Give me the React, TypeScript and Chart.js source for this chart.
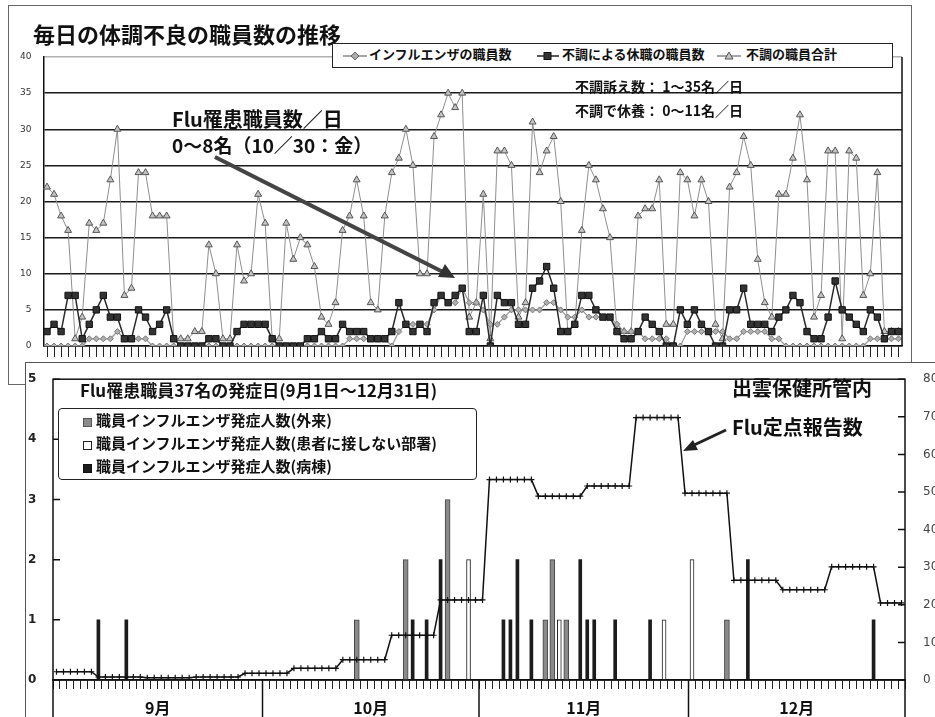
import React, { useEffect, useRef } from 'react';
import { Chart, registerables } from 'chart.js';

Chart.register(...registerables);

const FONT = '"Noto Sans CJK JP", "Noto Sans", sans-serif';

// ---- categories: every day from 9/1 to 12/31 ----
const monthNames = ['9月', '10月', '11月', '12月'];
const monthNumbers = [9, 10, 11, 12];
const monthDays = [30, 31, 30, 31];
const dayLabels: string[] = monthDays.flatMap((n, m) =>
  Array.from({ length: n }, (_, d) => `${monthNumbers[m]}/${d + 1}`)
);

// ---- top chart: 毎日の体調不良の職員数の推移 ----
const totalIll = [
  // Sep
  22, 21, 18, 16, 1, 4, 17, 16, 17, 23, 30, 7, 8, 24, 24, 18, 18, 18, 1, 1, 1, 2, 2, 14, 10, 1, 1, 14, 9, 10,
  // Oct
  21, 17, 1, 1, 17, 12, 15, 14, 11, 4, 3, 6, 16, 18, 23, 18, 6, 5, 18, 24, 26, 30, 25, 10, 10, 29, 32, 35, 33, 35, 4,
  // Nov
  6, 21, 1, 27, 27, 25, 4, 6, 31, 24, 27, 29, 20, 2, 3, 16, 25, 23, 19, 15, 2, 2, 2, 18, 19, 19, 23, 3, 3, 24,
  // Dec
  23, 18, 23, 20, 3, 1, 22, 24, 29, 25, 12, 6, 4, 21, 21, 26, 32, 23, 4, 7, 27, 27, 1, 27, 26, 7, 10, 24, 2, 2, 2,
];
const restIll = [
  2, 3, 2, 7, 7, 1, 3, 5, 7, 4, 4, 1, 1, 5, 4, 2, 3, 5, 1, 0, 0, 0, 0, 1, 1, 0, 0, 2, 3, 3,
  3, 3, 1, 0, 0, 0, 0, 1, 1, 2, 1, 1, 3, 2, 2, 2, 1, 1, 1, 2, 6, 3, 2, 3, 2, 6, 7, 6, 7, 8, 2,
  2, 7, 0, 7, 6, 6, 3, 3, 8, 9, 11, 8, 2, 2, 3, 7, 7, 5, 4, 4, 2, 1, 1, 2, 4, 3, 2, 0, 0, 5,
  3, 5, 3, 2, 0, 0, 5, 5, 8, 3, 3, 3, 2, 4, 5, 7, 6, 2, 1, 1, 4, 9, 5, 4, 3, 2, 5, 4, 1, 2, 2,
];
const fluStaff = [
  0, 0, 0, 0, 0, 0, 1, 1, 1, 1, 2, 1, 1, 1, 1, 0, 0, 0, 0, 0, 0, 0, 0, 0, 0, 0, 0, 0, 0, 0,
  0, 0, 0, 0, 0, 0, 0, 0, 0, 0, 0, 0, 0, 1, 1, 1, 1, 1, 1, 0, 2, 3, 3, 3, 3, 5, 7, 6, 6, 8, 6,
  6, 5, 3, 3, 4, 5, 5, 5, 5, 5, 6, 6, 5, 4, 4, 5, 4, 4, 4, 4, 3, 2, 2, 2, 1, 1, 1, 1, 0, 0,
  2, 2, 2, 2, 2, 2, 1, 1, 2, 2, 2, 2, 1, 1, 0, 0, 0, 0, 0, 0, 0, 0, 0, 0, 0, 0, 1, 1, 1, 1, 1,
];
const topYTicks = [0, 5, 10, 15, 20, 25, 30, 35, 40];

// ---- bottom chart: Flu罹患職員37名の発症日 ----
const onsetOutpatient: [string, number][] = [
  ['10/14', 1], ['10/21', 2], ['10/27', 3], ['11/10', 1], ['11/11', 2], ['11/13', 1], ['12/6', 1],
];
const onsetNonPatient: [string, number][] = [
  ['10/30', 2], ['11/12', 1], ['11/27', 1], ['12/1', 2],
];
const onsetWard: [string, number][] = [
  ['9/7', 1], ['9/11', 1], ['10/22', 1], ['10/24', 1], ['10/26', 2], ['11/4', 1], ['11/5', 1], ['11/6', 2],
  ['11/8', 1], ['11/15', 2], ['11/16', 1], ['11/17', 1], ['11/20', 1], ['11/25', 1], ['12/9', 2], ['12/27', 1],
];
// 出雲保健所管内 Flu定点報告数 (weekly value, shown on every day of its week)
const reportWeekStart = ['9/1', '9/7', '9/14', '9/21', '9/28', '10/5', '10/12', '10/19', '10/26', '11/2', '11/9', '11/16', '11/23', '11/30', '12/7', '12/14', '12/21', '12/28'];
const reportValue = [2.2, 0.8, 0.6, 0.8, 1.8, 3.1, 5.4, 11.9, 21.3, 53.3, 48.9, 51.6, 69.8, 49.7, 26.5, 24.0, 30.1, 20.5];

const reportStartIdx = reportWeekStart.map((d) => dayLabels.indexOf(d));
const fluReportDaily = dayLabels.map((_, i) => {
  let v = reportValue[0];
  reportStartIdx.forEach((s, k) => {
    if (i >= s) v = reportValue[k];
  });
  return v;
});
const toPoints = (arr: [string, number][]) => arr.map(([x, y]) => ({ x, y }));

const topFramePlugin = {
  id: 'topFrame',
  afterDraw(chart: any) {
    const { ctx, chartArea: a } = chart;
    ctx.save();
    ctx.strokeStyle = '#111';
    ctx.lineWidth = 1.5;
    ctx.beginPath();
    ctx.moveTo(a.right, a.top);
    ctx.lineTo(a.right, a.bottom);
    ctx.stroke();
    ctx.restore();
  },
};

const bottomFramePlugin = {
  id: 'bottomFrame',
  afterDraw(chart: any) {
    const { ctx, chartArea: a, scales } = chart;
    const x = scales.x;
    const y = scales.y;
    const y2 = scales.y2;
    ctx.save();
    ctx.strokeStyle = '#111';
    ctx.lineWidth = 1.5;
    ctx.strokeRect(a.left, a.top, a.right - a.left, a.bottom - a.top);
    ctx.beginPath();
    ctx.moveTo(a.left, a.bottom);
    ctx.lineTo(a.left, chart.height);
    ctx.moveTo(a.right, a.bottom);
    ctx.lineTo(a.right, chart.height);
    y.ticks.forEach((t: any) => {
      const py = y.getPixelForValue(t.value);
      ctx.moveTo(a.left, py);
      ctx.lineTo(a.left + 7, py);
    });
    y2.ticks.forEach((t: any) => {
      const py = y2.getPixelForValue(t.value);
      ctx.moveTo(a.right - 7, py);
      ctx.lineTo(a.right, py);
    });
    ctx.stroke();
    ctx.fillStyle = '#111';
    ctx.font = `bold 16px ${FONT}`;
    ctx.textAlign = 'center';
    ctx.textBaseline = 'middle';
    let start = 0;
    monthDays.forEach((n, m) => {
      const l = start === 0 ? a.left : (x.getPixelForValue(start - 1) + x.getPixelForValue(start)) / 2;
      const end = start + n;
      const r = end >= dayLabels.length ? a.right : (x.getPixelForValue(end - 1) + x.getPixelForValue(end)) / 2;
      if (start > 0) {
        ctx.beginPath();
        ctx.moveTo(l, a.bottom);
        ctx.lineTo(l, chart.height);
        ctx.stroke();
      }
      ctx.fillText(monthNames[m], (l + r) / 2, a.bottom + 28);
      start = end;
    });
    ctx.restore();
  },
};

function topConfig(): any {
  return {
    type: 'line',
    data: {
      labels: dayLabels,
      datasets: [
        {
          label: '不調による休職の職員数',
          data: restIll,
          borderColor: '#2a2a2a',
          borderWidth: 1.5,
          pointStyle: 'rect',
          pointRadius: 4.5,
          pointBackgroundColor: '#333',
          pointBorderColor: '#111',
          pointBorderWidth: 1,
        },
        {
          label: 'インフルエンザの職員数',
          data: fluStaff,
          borderColor: '#9a9a9a',
          borderWidth: 1.3,
          pointStyle: 'rectRot',
          pointRadius: 3,
          pointBackgroundColor: '#b0b0b0',
          pointBorderColor: '#777',
          pointBorderWidth: 1,
        },
        {
          label: '不調の職員合計',
          data: totalIll,
          borderColor: '#8e8e8e',
          borderWidth: 1,
          pointStyle: 'triangle',
          pointRadius: 4,
          pointBackgroundColor: '#c4c4c4',
          pointBorderColor: '#555',
          pointBorderWidth: 1,
        },
      ],
    },
    options: {
      responsive: false,
      animation: false,
      devicePixelRatio: 1,
      layout: { padding: { top: 52, right: 18, left: 0, bottom: 0 } },
      plugins: { legend: { display: false }, title: { display: false }, tooltip: { enabled: false } },
      scales: {
        x: {
          type: 'category',
          offset: true,
          afterFit: (s: any) => { s.height = 40; },
          grid: { drawOnChartArea: false, drawTicks: true, tickLength: 11, tickColor: '#222', tickWidth: 1 },
          border: { display: true, color: '#111', width: 1.5 },
          ticks: { autoSkip: false, maxRotation: 0, callback: () => '', font: { size: 1 } },
        },
        y: {
          min: 0,
          max: 40,
          afterFit: (s: any) => { s.width = 35.5; },
          afterBuildTicks: (s: any) => { s.ticks = topYTicks.map((v) => ({ value: v })); },
          grid: {
            drawTicks: false,
            lineWidth: 1.5,
            color: (c: any) => (c.tick && c.tick.value === 40 ? '#b0b0b0' : '#1a1a1a'),
          },
          border: { display: true, color: '#111', width: 1.5 },
          ticks: { padding: 12, color: '#333', font: { size: 9, family: 'DejaVu Sans' } },
        },
      },
    },
    plugins: [topFramePlugin],
  };
}

function bottomConfig(): any {
  return {
    type: 'bar',
    data: {
      labels: dayLabels,
      datasets: [
        {
          type: 'line',
          label: 'Flu定点報告数',
          data: fluReportDaily,
          yAxisID: 'y2',
          borderColor: '#111',
          borderWidth: 1.5,
          pointStyle: 'cross',
          pointRadius: 3,
          pointBorderColor: '#111',
          pointBorderWidth: 1.2,
          tension: 0,
        },
        {
          label: '職員インフルエンザ発症人数(外来)',
          data: toPoints(onsetOutpatient),
          yAxisID: 'y',
          backgroundColor: '#8a8a8a',
          borderColor: '#444',
          borderWidth: 1,
          barThickness: 5,
          grouped: false,
        },
        {
          label: '職員インフルエンザ発症人数(患者に接しない部署)',
          data: toPoints(onsetNonPatient),
          yAxisID: 'y',
          backgroundColor: '#ffffff',
          borderColor: '#222',
          borderWidth: 1,
          borderSkipped: false,
          barThickness: 4,
          grouped: false,
        },
        {
          label: '職員インフルエンザ発症人数(病棟)',
          data: toPoints(onsetWard),
          yAxisID: 'y',
          backgroundColor: '#1c1c1c',
          borderWidth: 0,
          barThickness: 3,
          grouped: false,
        },
      ],
    },
    options: {
      responsive: false,
      animation: false,
      devicePixelRatio: 1,
      layout: { padding: { top: 9.5, right: 0, left: 3, bottom: 0 } },
      plugins: { legend: { display: false }, title: { display: false }, tooltip: { enabled: false } },
      scales: {
        x: {
          type: 'category',
          offset: true,
          afterFit: (s: any) => { s.height = 37; },
          grid: { drawOnChartArea: false, drawTicks: true, tickLength: 9, tickColor: '#222', tickWidth: 1, offset: true },
          border: { display: true, color: '#111', width: 1.5 },
          ticks: { autoSkip: false, maxRotation: 0, callback: () => '', font: { size: 1 } },
        },
        y: {
          position: 'left',
          min: 0,
          max: 5,
          afterFit: (s: any) => { s.width = 25; },
          grid: { display: false },
          border: { display: false },
          ticks: { stepSize: 1, crossAlign: 'far', color: '#222', font: { size: 12, weight: 'bold', family: 'DejaVu Sans' } },
        },
        y2: {
          position: 'right',
          min: 0,
          max: 80,
          afterFit: (s: any) => { s.width = 45; },
          grid: { display: false },
          border: { display: false },
          ticks: { stepSize: 10, padding: 10, color: '#444', font: { size: 12, family: 'DejaVu Sans' } },
        },
      },
    },
    plugins: [bottomFramePlugin],
  };
}

const abs = (left: number, top: number, extra: React.CSSProperties = {}): React.CSSProperties => ({
  position: 'absolute',
  left,
  top,
  ...extra,
});

const txt = (size: number, bold = true): React.CSSProperties => ({
  fontFamily: FONT,
  fontSize: size,
  fontWeight: bold ? 'bold' : 'normal',
  lineHeight: `${Math.round(size * 1.25)}px`,
  whiteSpace: 'nowrap',
  color: '#111',
});

export default function App() {
  const topRef = useRef<HTMLCanvasElement>(null);
  const botRef = useRef<HTMLCanvasElement>(null);

  useEffect(() => {
    const c1 = new Chart(topRef.current as HTMLCanvasElement, topConfig());
    const c2 = new Chart(botRef.current as HTMLCanvasElement, bottomConfig());
    return () => {
      c1.destroy();
      c2.destroy();
    };
  }, []);

  return (
    <div style={{ position: 'fixed', left: 0, top: 0, width: 935, height: 717, overflow: 'hidden', background: '#fff' }}>
      {/* ===== top chart ===== */}
      <div style={abs(8, 5, { width: 904, height: 380, border: '1px solid #666', boxSizing: 'border-box' })} />
      <canvas ref={topRef} width={912} height={381} style={abs(8, 5, { width: 912, height: 381 })} />
      <div style={abs(33, 19, txt(22))}>毎日の体調不良の職員数の推移</div>

      <div style={abs(332, 43, { width: 561, height: 25, border: '1.5px solid #222', background: '#fff', boxSizing: 'border-box' })}>
        <svg style={abs(10, 5)} width={24} height={14}>
          <line x1={0} y1={7} x2={24} y2={7} stroke="#888" strokeWidth={1.5} />
          <polygon points="12,3 16,7 12,11 8,7" fill="#aaa" stroke="#666" />
        </svg>
        <div style={abs(36, 2, txt(13))}>インフルエンザの職員数</div>
        <svg style={abs(204, 5)} width={22} height={14}>
          <line x1={0} y1={7} x2={22} y2={7} stroke="#222" strokeWidth={1.5} />
          <rect x={7} y={3.5} width={7} height={7} fill="#333" stroke="#111" />
        </svg>
        <div style={abs(229, 2, txt(13))}>不調による休職の職員数</div>
        <svg style={abs(384, 5)} width={24} height={14}>
          <line x1={0} y1={7} x2={24} y2={7} stroke="#888" strokeWidth={1.5} />
          <polygon points="12,3 16,10 8,10" fill="#c4c4c4" stroke="#555" />
        </svg>
        <div style={abs(413, 2, txt(13))}>不調の職員合計</div>
      </div>

      <div style={abs(575, 77, txt(14))}>不調訴え数： 1～35名／日</div>
      <div style={abs(575, 101, txt(14))}>不調で休養： 0～11名／日</div>
      <div style={abs(172, 106, txt(20))}>Flu罹患職員数／日</div>
      <div style={abs(172, 133, txt(19))}>0～8名（10／30：金）</div>
      <svg style={abs(0, 0)} width={935} height={380}>
        <line x1={215} y1={157} x2={443} y2={272} stroke="#444" strokeWidth={4} />
        <polygon points="455,278 438,277 445,264" fill="#333" />
      </svg>

      {/* ===== bottom chart ===== */}
      <div style={abs(25, 362, { width: 950, height: 400, background: '#fff', borderTop: '1px solid #555', borderLeft: '1px solid #555', boxSizing: 'border-box' })} />
      <canvas ref={botRef} width={925} height={355} style={abs(25, 362, { width: 925, height: 355 })} />
      <div style={abs(80, 379, txt(17))}>Flu罹患職員37名の発症日(9月1日～12月31日)</div>

      <div style={abs(58, 408, { width: 419, height: 72, border: '1.5px solid #222', borderRadius: 4, background: '#fff', boxSizing: 'border-box' })}>
        <div style={abs(24, 9, { width: 7, height: 7, background: '#8a8a8a', border: '1px solid #555' })} />
        <div style={abs(37, 1, txt(15))}>職員インフルエンザ発症人数(外来)</div>
        <div style={abs(24, 32, { width: 7, height: 7, background: '#fff', border: '1px solid #222' })} />
        <div style={abs(37, 24, txt(15))}>職員インフルエンザ発症人数(患者に接しない部署)</div>
        <div style={abs(24, 55, { width: 7, height: 7, background: '#1c1c1c', border: '1px solid #111' })} />
        <div style={abs(37, 47, txt(15))}>職員インフルエンザ発症人数(病棟)</div>
      </div>

      <div style={abs(732, 375, txt(20))}>出雲保健所管内</div>
      <div style={abs(732, 414, txt(20))}>Flu定点報告数</div>
      <svg style={abs(0, 0)} width={935} height={717}>
        <line x1={726} y1={430} x2={692} y2={446} stroke="#222" strokeWidth={3} />
        <polygon points="683,451 693,440 698,450" fill="#222" />
      </svg>
    </div>
  );
}
